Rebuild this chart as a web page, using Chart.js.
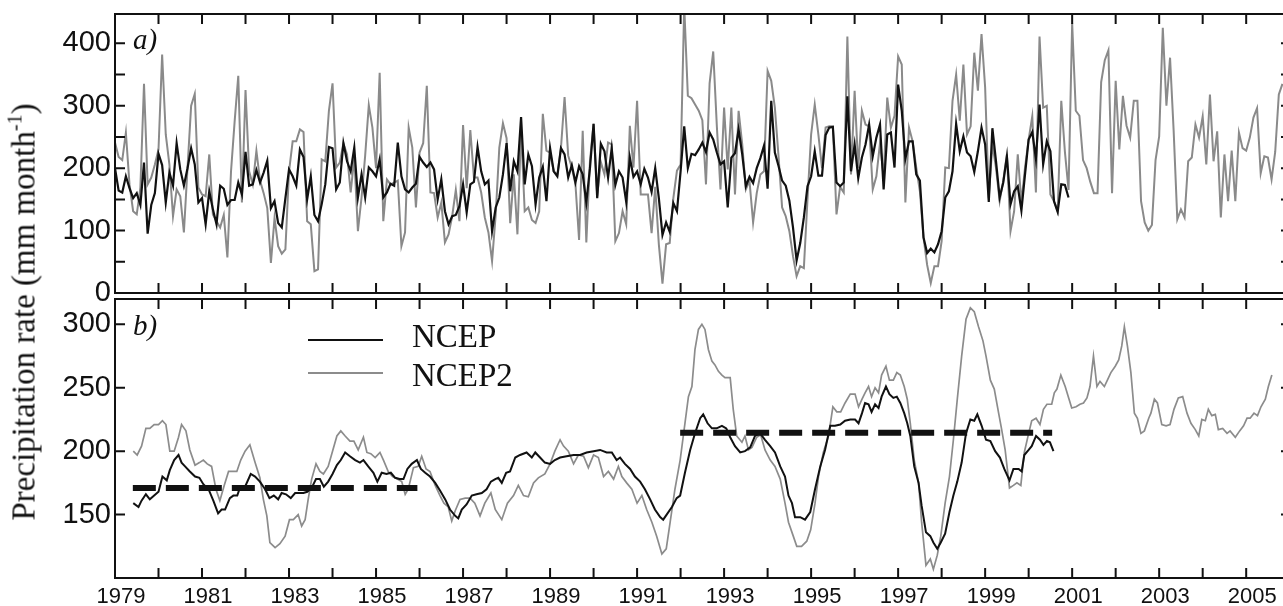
<!DOCTYPE html>
<html>
<head>
<meta charset="utf-8">
<script src="https://cdn.jsdelivr.net/npm/chart.js@4.4.1/dist/chart.umd.min.js"></script>
<style>
  html, body { margin: 0; padding: 0; background: #fff; overflow: hidden; width: 1283px; height: 606px; }
  .box { position: absolute; left: 0; }
  #ytitle { position: absolute; left: 24px; top: 312px; transform: translate(-50%, -50%) rotate(-90deg);
    font-family: "Liberation Serif", "Times New Roman", serif; font-size: 33px; white-space: nowrap; color: #111; }
  #ytitle sup { font-size: 20px; vertical-align: 0; position: relative; top: -13px; }
  .plab { position: absolute; font-family: "Liberation Serif", serif; font-style: italic; font-size: 29px; line-height: 29px; color: #111; }
  .leg { position: absolute; font-family: "Liberation Serif", serif; font-size: 33px; line-height: 33px; color: #111; }
  .legline { position: absolute; left: 308px; width: 75px; }
</style>
</head>
<body>
<div class="box" style="top:0"><canvas id="chartA" width="1300" height="310"></canvas></div>
<div class="box" style="top:290px"><canvas id="chartB" width="1300" height="316"></canvas></div>
<div id="ytitle">Precipitation rate (mm month<sup>-1</sup>)</div>
<div class="plab" style="left:133px; top:25px">a)</div>
<div class="plab" style="left:133px; top:311px">b)</div>
<div class="legline" style="top:339px; height:2px; background:#111"></div>
<div class="legline" style="top:372px; height:2px; background:#8c8c8c"></div>
<div class="leg" style="left:412px; top:320px">NCEP</div>
<div class="leg" style="left:412px; top:359px">NCEP2</div>
<script>
// tick settings
const yearTicks = [1980,1981,1982,1983,1984,1985,1986,1987,1988,1989,1990,1991,1992,1993,1994,1995,1996,1997,1998,1999,2000,2001,2002,2003,2004,2005,2006];
const yearLabels = [1979,1981,1983,1985,1987,1989,1991,1993,1995,1997,1999,2001,2003,2005];
const aTicks = [0,50,100,150,200,250,300,350,400];
const bTicks = [150,200,250,300];

// panel a: monthly values from Jan 1979
const ncepMonthly = [
  200,164,161,187,168,152,160,141,209,95,141,160,
  223,205,145,193,172,240,198,172,200,232,206,145,
  152,110,163,134,110,172,167,141,149,149,177,158,
  226,172,174,197,177,193,212,136,147,112,105,152,
  198,187,172,230,218,150,187,125,115,142,174,234,
  232,166,177,240,211,195,233,153,190,153,201,195,
  187,214,153,161,175,172,241,187,166,161,169,175,
  218,209,202,209,198,150,182,131,110,123,125,139,
  174,129,174,178,234,195,174,180,99,137,153,190,
  240,163,211,195,282,174,222,203,142,185,202,147,
  232,195,187,232,222,185,205,177,203,190,145,200,
  271,152,239,227,185,232,173,195,185,146,217,186,
  195,174,199,185,162,200,152,93,113,98,144,131,
  195,267,200,223,221,230,241,226,257,246,225,206,
  211,137,217,224,262,222,171,186,176,200,216,236,
  167,308,225,204,180,172,148,105,52,80,121,171,
  187,227,188,188,253,265,266,177,171,177,315,195,
  238,184,217,238,270,219,249,270,166,254,257,201,
  334,292,215,243,243,190,180,89,64,71,65,78,
  99,153,163,195,271,227,251,225,219,194,227,265,
  238,146,264,211,153,177,219,142,163,171,132,190,
  246,258,215,302,206,243,227,147,130,174,173,153
];
const ncep2Monthly = [
  241,218,213,257,174,131,126,169,335,174,185,206,
  230,382,254,206,123,166,155,97,200,300,319,169,
  158,155,222,126,115,105,125,57,195,275,348,145,
  325,195,174,228,180,160,136,48,120,75,63,70,
  195,243,243,262,258,115,110,35,38,214,211,292,
  336,201,209,240,222,161,217,99,153,220,301,265,
  200,353,115,182,174,177,180,75,97,265,233,137,
  225,240,332,161,160,121,145,81,94,123,165,115,
  269,168,261,185,185,161,121,97,51,125,233,272,
  248,112,190,94,262,131,137,117,112,131,287,228,
  225,195,189,232,314,220,201,174,85,260,81,211,
  271,155,210,190,241,238,83,96,131,110,268,201,
  308,158,158,158,96,170,78,15,78,80,152,196,
  206,460,316,312,302,292,277,174,336,387,267,166,
  297,198,297,158,292,238,166,180,113,160,190,195,
  356,340,297,220,137,123,99,59,27,43,40,150,
  254,302,254,200,265,267,267,126,170,161,411,190,
  324,200,292,270,267,166,187,240,185,313,265,284,
  379,366,145,265,243,201,163,89,45,16,43,43,
  83,201,200,308,350,276,366,254,267,385,324,415,
  329,152,238,200,147,180,222,99,131,222,145,201,
  246,283,161,411,297,300,158,147,131,308,226,165,
  432,292,284,213,200,178,160,160,338,373,389,160,
  340,230,316,268,249,308,308,147,113,100,109,213,
  251,425,300,377,259,118,134,121,211,217,270,249,
  283,206,318,211,259,121,222,147,228,147,257,232,
  228,249,281,296,192,219,217,182,226,318,335
];

// panel b: smoothed series, [year, value]
const ncepSmooth = [
  [1979.42,159],[1979.54,156],[1979.61,161],[1979.71,166],[1979.80,162],[1979.90,165],[1980.00,168],[1980.09,180],
  [1980.19,177],[1980.26,185],[1980.36,193],[1980.46,197],[1980.53,191],[1980.61,188],[1980.72,184],[1980.84,180],
  [1980.94,179],[1981.03,174],[1981.15,170],[1981.26,161],[1981.37,151],[1981.45,154],[1981.53,154],[1981.64,163],
  [1981.72,165],[1981.81,165],[1981.87,171],[1981.99,172],[1982.12,182],[1982.22,180],[1982.33,176],[1982.45,170],
  [1982.55,163],[1982.65,165],[1982.75,162],[1982.83,167],[1982.93,166],[1983.04,163],[1983.14,167],[1983.24,167],
  [1983.33,167],[1983.42,168],[1983.52,171],[1983.62,178],[1983.71,178],[1983.80,172],[1983.90,176],[1984.00,182],
  [1984.10,189],[1984.19,193],[1984.29,199],[1984.40,196],[1984.52,193],[1984.63,191],[1984.71,193],[1984.82,188],
  [1984.94,183],[1985.03,176],[1985.13,183],[1985.24,182],[1985.34,183],[1985.44,179],[1985.54,178],[1985.63,178],
  [1985.72,186],[1985.82,190],[1985.94,193],[1986.03,186],[1986.13,183],[1986.24,180],[1986.36,175],[1986.47,169],
  [1986.59,162],[1986.70,154],[1986.82,149],[1986.89,147],[1986.97,154],[1987.08,158],[1987.20,165],[1987.31,166],
  [1987.43,167],[1987.54,170],[1987.64,176],[1987.74,178],[1987.81,179],[1987.89,175],[1987.99,183],[1988.08,184],
  [1988.20,195],[1988.31,197],[1988.46,199],[1988.58,195],[1988.66,199],[1988.77,195],[1988.88,191],[1989.00,190],
  [1989.11,193],[1989.23,195],[1989.38,196],[1989.54,197],[1989.69,197],[1989.84,199],[1990.00,200],[1990.15,201],
  [1990.30,199],[1990.42,199],[1990.53,193],[1990.61,195],[1990.72,190],[1990.84,186],[1990.95,180],[1991.07,176],
  [1991.18,170],[1991.30,162],[1991.41,154],[1991.53,148],[1991.60,146],[1991.68,150],[1991.80,156],[1991.91,163],
  [1991.99,165],[1992.10,183],[1992.22,201],[1992.33,214],[1992.45,226],[1992.52,229],[1992.62,222],[1992.72,218],
  [1992.83,218],[1992.95,220],[1993.05,218],[1993.14,211],[1993.25,204],[1993.37,199],[1993.48,200],[1993.60,203],
  [1993.71,212],[1993.83,214],[1993.94,209],[1994.06,204],[1994.17,199],[1994.29,188],[1994.40,180],[1994.48,165],
  [1994.56,159],[1994.63,148],[1994.75,148],[1994.86,146],[1994.98,152],[1995.09,170],[1995.21,188],[1995.32,201],
  [1995.44,220],[1995.55,220],[1995.67,221],[1995.78,224],[1995.90,225],[1996.01,225],[1996.09,222],[1996.17,230],
  [1996.24,238],[1996.32,237],[1996.39,231],[1996.47,237],[1996.55,234],[1996.62,243],[1996.72,251],[1996.80,245],
  [1996.89,242],[1996.97,243],[1997.05,238],[1997.14,230],[1997.21,222],[1997.28,212],[1997.37,188],[1997.47,175],
  [1997.54,157],[1997.64,136],[1997.74,133],[1997.81,128],[1997.90,123],[1997.98,128],[1998.08,135],[1998.18,152],
  [1998.27,165],[1998.36,176],[1998.46,191],[1998.56,214],[1998.66,225],[1998.75,224],[1998.82,229],[1998.92,220],
  [1999.02,209],[1999.12,208],[1999.23,200],[1999.34,195],[1999.44,186],[1999.56,177],[1999.65,186],[1999.77,186],
  [1999.84,184],[1999.90,197],[2000.00,201],[2000.07,204],[2000.17,212],[2000.26,209],[2000.34,205],[2000.42,208],
  [2000.49,207],[2000.57,200]
];
const ncep2Smooth = [
  [1979.42,200],[1979.51,197],[1979.61,204],[1979.71,218],[1979.80,218],[1979.90,221],[1980.00,221],[1980.09,224],
  [1980.17,221],[1980.26,200],[1980.36,200],[1980.46,211],[1980.53,221],[1980.63,216],[1980.72,201],[1980.84,189],
  [1980.94,191],[1981.03,193],[1981.12,190],[1981.22,188],[1981.32,170],[1981.41,161],[1981.51,173],[1981.61,184],
  [1981.70,184],[1981.80,184],[1981.89,193],[1981.99,200],[1982.10,205],[1982.22,191],[1982.33,179],[1982.41,162],
  [1982.49,149],[1982.56,128],[1982.68,124],[1982.79,127],[1982.91,133],[1983.01,146],[1983.10,146],[1983.21,150],
  [1983.29,141],[1983.37,146],[1983.44,162],[1983.52,178],[1983.62,190],[1983.71,184],[1983.79,182],[1983.90,188],
  [1984.00,200],[1984.10,212],[1984.19,216],[1984.29,212],[1984.40,208],[1984.49,208],[1984.59,201],[1984.71,211],
  [1984.79,199],[1984.88,198],[1984.98,195],[1985.09,199],[1985.17,193],[1985.28,184],[1985.38,180],[1985.49,178],
  [1985.59,176],[1985.67,166],[1985.74,170],[1985.86,187],[1985.97,188],[1986.05,196],[1986.15,186],[1986.24,184],
  [1986.36,173],[1986.47,165],[1986.56,159],[1986.66,156],[1986.74,145],[1986.82,153],[1986.93,162],[1987.05,163],
  [1987.16,163],[1987.27,159],[1987.39,149],[1987.50,159],[1987.64,167],[1987.74,154],[1987.89,146],[1988.02,159],
  [1988.16,165],[1988.27,173],[1988.39,165],[1988.50,164],[1988.62,175],[1988.73,179],[1988.88,182],[1989.00,190],
  [1989.11,200],[1989.23,209],[1989.31,204],[1989.42,200],[1989.54,190],[1989.65,197],[1989.77,196],[1989.88,187],
  [1990.00,197],[1990.11,195],[1990.23,180],[1990.34,184],[1990.46,178],[1990.57,188],[1990.65,180],[1990.76,175],
  [1990.88,170],[1991.00,159],[1991.11,165],[1991.22,154],[1991.34,144],[1991.45,133],[1991.57,119],[1991.67,123],
  [1991.76,144],[1991.87,170],[1991.99,193],[1992.10,222],[1992.18,243],[1992.26,251],[1992.33,280],[1992.41,296],
  [1992.49,300],[1992.56,296],[1992.64,280],[1992.72,271],[1992.79,268],[1992.87,263],[1992.95,260],[1993.02,258],
  [1993.14,258],[1993.21,233],[1993.29,212],[1993.41,207],[1993.48,212],[1993.56,201],[1993.64,203],[1993.75,211],
  [1993.84,213],[1993.94,201],[1994.06,193],[1994.17,188],[1994.29,178],[1994.40,159],[1994.48,144],[1994.59,133],
  [1994.67,125],[1994.78,125],[1994.90,129],[1994.99,138],[1995.09,159],[1995.17,180],[1995.28,199],[1995.40,212],
  [1995.50,235],[1995.59,231],[1995.68,231],[1995.78,238],[1995.90,245],[1996.01,245],[1996.09,235],[1996.17,241],
  [1996.24,246],[1996.32,251],[1996.39,243],[1996.47,250],[1996.55,246],[1996.62,260],[1996.72,267],[1996.80,256],
  [1996.89,256],[1996.97,262],[1997.05,260],[1997.14,251],[1997.21,241],[1997.28,222],[1997.37,193],[1997.47,175],
  [1997.54,144],[1997.64,110],[1997.74,115],[1997.81,107],[1997.90,118],[1997.98,133],[1998.08,159],[1998.18,180],
  [1998.27,209],[1998.36,241],[1998.46,275],[1998.56,304],[1998.66,313],[1998.75,310],[1998.85,298],[1998.95,287],
  [1999.02,275],[1999.12,256],[1999.21,249],[1999.31,230],[1999.38,217],[1999.46,201],[1999.56,171],[1999.65,173],
  [1999.73,175],[1999.82,173],[1999.90,199],[2000.00,214],[2000.07,224],[2000.17,226],[2000.26,221],[2000.34,233],
  [2000.42,237],[2000.53,237],[2000.59,246],[2000.65,249],[2000.74,260],[2000.84,251],[2000.92,242],[2000.99,234],
  [2001.09,235],[2001.18,237],[2001.26,238],[2001.34,242],[2001.41,251],[2001.49,275],[2001.57,251],[2001.64,255],
  [2001.74,251],[2001.81,256],[2001.89,262],[2001.99,267],[2002.07,272],[2002.14,283],[2002.20,298],[2002.27,283],
  [2002.35,262],[2002.43,230],[2002.50,226],[2002.58,214],[2002.66,216],[2002.76,226],[2002.81,230],[2002.89,241],
  [2002.96,238],[2003.06,221],[2003.16,220],[2003.25,221],[2003.34,233],[2003.44,242],[2003.54,243],[2003.64,230],
  [2003.73,222],[2003.83,217],[2003.91,212],[2003.98,225],[2004.06,224],[2004.13,233],[2004.21,228],[2004.29,229],
  [2004.36,217],[2004.46,218],[2004.56,214],[2004.63,216],[2004.75,211],[2004.85,216],[2004.94,220],[2005.02,226],
  [2005.09,226],[2005.18,230],[2005.26,228],[2005.34,235],[2005.44,241],[2005.51,251],[2005.59,260]
];
// period means (dashed)
const mean1 = [[1979.41,171],[1985.95,171]];
const mean2 = [[1991.99,214.5],[2000.54,214.5]];

const X_MIN = 1979, X_MAX = 2006.03;
const monthly = arr => arr.map((v, i) => ({x: X_MIN + i / 12, y: v}));
const pairs = arr => arr.map(p => ({x: p[0], y: p[1]}));

//Frame with inward ticks
const framePlugin = {
  id: 'frame',
  afterDraw(chart, args, opts) {
    const ctx = chart.ctx, a = chart.chartArea;
    const x = chart.scales.x, y = chart.scales.y;
    ctx.save();
    ctx.strokeStyle = '#111';
    ctx.lineWidth = 2;
    ctx.strokeRect(a.left, a.top, a.right - a.left, a.bottom - a.top);
    ctx.beginPath();
    yearTicks.forEach(yr => {
      const px = x.getPixelForValue(yr);
      if (px >= a.right) return;
      ctx.moveTo(px, a.top); ctx.lineTo(px, a.top + 10);
      ctx.moveTo(px, a.bottom); ctx.lineTo(px, a.bottom - 10);
    });
    opts.ticks.forEach(v => {
      const py = y.getPixelForValue(v);
      ctx.moveTo(a.left, py); ctx.lineTo(a.left + 10, py);
      ctx.moveTo(a.right, py); ctx.lineTo(a.right - 10, py);
    });
    ctx.stroke();
    ctx.restore();
  }
};

const tickFont = {family: '"Liberation Sans", Arial, sans-serif', size: 29};
const noPad = s => { s.paddingTop = 0; s.paddingBottom = 0; s.paddingLeft = 0; s.paddingRight = 0; };

function yScale(min, max, ticks) {
  return {
    min: min, max: max,
    grid: {display: false, drawTicks: false},
    border: {display: false},
    ticks: {stepSize: 50, padding: 4, color: '#111', font: tickFont},
    afterBuildTicks: s => { s.ticks = ticks.map(v => ({value: v})); },
    afterFit: s => { s.width = 115; noPad(s); }
  };
}

// Initializes top chart
new Chart(document.getElementById('chartA'), {
  type: 'line',
  data: {
    datasets: [
      {data: monthly(ncepMonthly), borderColor: '#111', borderWidth: 2.2, order: 0},
      {data: monthly(ncep2Monthly), borderColor: '#8a8a8a', borderWidth: 2, order: 1}
    ]
  },
  options: {
    responsive: false, animation: false,
    layout: {padding: {top: 14, right: 9, bottom: 17, left: 0}},
    elements: {point: {radius: 0}, line: {tension: 0}},
    plugins: {legend: {display: false}, tooltip: {enabled: false}, frame: {ticks: aTicks}},
    scales: {
      x: {type: 'linear', min: X_MIN, max: X_MAX, display: false},
      y: yScale(0, 447, aTicks)
    }
  },
  plugins: [framePlugin]
});

// Initializes bottom chart
new Chart(document.getElementById('chartB'), {
  type: 'line',
  data: {
    datasets: [
      {data: pairs(mean1), borderColor: '#111', borderWidth: 6, borderDash: [23, 10], order: -1},
      {data: pairs(mean2), borderColor: '#111', borderWidth: 6, borderDash: [23, 10], order: -1},
      {data: pairs(ncepSmooth), borderColor: '#111', borderWidth: 2, order: 0},
      {data: pairs(ncep2Smooth), borderColor: '#8c8c8c', borderWidth: 1.7, order: 1}
    ]
  },
  options: {
    responsive: false, animation: false,
    layout: {padding: {top: 9, right: 9, bottom: 0, left: 0}},
    elements: {point: {radius: 0}, line: {tension: 0}},
    plugins: {legend: {display: false}, tooltip: {enabled: false}, frame: {ticks: bTicks}},
    scales: {
      x: {
        type: 'linear', min: X_MIN, max: X_MAX,
        grid: {display: false, drawTicks: false},
        border: {display: false},
        ticks: {color: '#111', padding: 6, labelOffset: 6, maxRotation: 0,
                font: {family: '"Liberation Sans", Arial, sans-serif', size: 22},
                callback: v => String(v)},
        afterBuildTicks: s => { s.ticks = yearLabels.map(v => ({value: v})); },
        afterFit: s => { s.height = 28; noPad(s); }
      },
      y: yScale(100, 320, bTicks)
    }
  },
  plugins: [framePlugin]
});
</script>
</body>
</html>
